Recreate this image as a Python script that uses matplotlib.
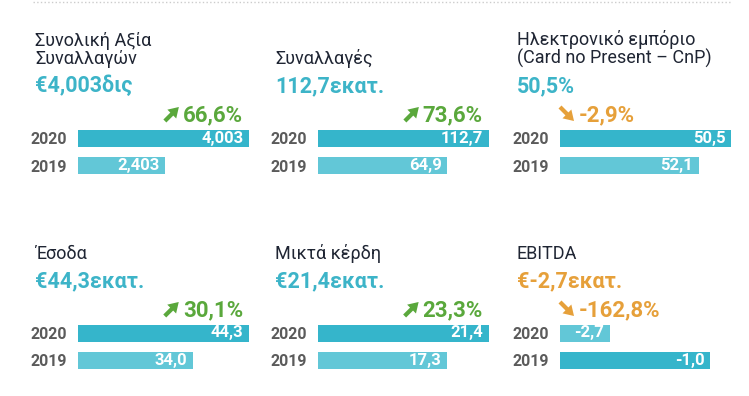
import matplotlib
matplotlib.use("Agg")
import matplotlib.pyplot as plt
from matplotlib.lines import Line2D
from matplotlib.patches import FancyArrow
from matplotlib.transforms import IdentityTransform

plt.rcParams['font.family'] = ['Roboto', 'DejaVu Sans']

# --- data ---
titles = ["Συνολική Αξία\nΣυναλλαγών", "Συναλλαγές", "Ηλεκτρονικό εμπόριο\n(Card no Present – CnP)",
          "Έσοδα", "Μικτά κέρδη", "EBITDA"]
headlines = ["€4,003δις", "112,7εκατ.", "50,5%", "€44,3εκατ.", "€21,4εκατ.", "€-2,7εκατ."]
change_pct = [66.6, 73.6, -2.9, 30.1, 23.3, -162.8]
years = ["2020", "2019"]
val_2020 = [4.003, 112.7, 50.5, 44.3, 21.4, -2.7]
val_2019 = [2.403, 64.9, 52.1, 34.0, 17.3, -1.0]
decimals = [3, 1, 1, 1, 1, 1]
# bar lengths as drawn in the source (share of the full bar width)
shown_2020 = [1.0, 1.0, 1.0, 1.0, 1.0, 0.29]
shown_2019 = [0.51, 0.755, 0.81, 0.67, 0.755, 0.88]

TEAL = '#3db4c8'
DARK_BAR = '#35b5cb'
LIGHT_BAR = '#62c7d7'
GREEN = '#5aa83c'
ORANGE = '#e6a03a'
INK = '#1f2533'
GREY = '#5b5b5b'

W, H = 749, 396
fig = plt.figure(figsize=(W / 100, H / 100), dpi=100)
fig.patch.set_facecolor('white')


def fx(x):
    return x / W


def fy(y):
    return 1 - y / H


def num(v, d):
    return f"{v:.{d}f}".replace('.', ',')


def arrow(x, base, up, color):
    # thick diagonal arrow next to the change figure, drawn in display pixels
    if up:
        x1, y1, dx, dy = x, H - base, 14, 14
    else:
        x1, y1, dx, dy = x, H - (base - 14), 14, -14
    fig.add_artist(FancyArrow(x1, y1, dx, dy, width=4.2, head_width=12.5, head_length=10,
                              length_includes_head=True, color=color, lw=0,
                              transform=IdentityTransform()))


fig.add_artist(Line2D([fx(33), fx(731)], [fy(1.5), fy(1.5)], ls=':', lw=1, color='#cccccc'))

col_x = [35, 275, 517]
row_dy = 195
full_len = 171
step = 27.5
renderer = fig.canvas.get_renderer()

for i in range(6):
    r, c = divmod(i, 3)
    x0 = col_x[c]
    dy = r * row_dy
    bx0 = x0 + 43

    fig.text(fx(x0), fy(64 + dy), titles[i], fontsize=13, color=INK, ha='left', va='baseline',
             linespacing=1.0)
    head_col = ORANGE if val_2020[i] < 0 else TEAL
    fig.text(fx(x0), fy(92 + dy), headlines[i], fontsize=15.5, fontweight='bold', color=head_col,
             ha='left', va='baseline')

    up = change_pct[i] > 0
    ch_col = GREEN if up else ORANGE
    ch_txt = num(change_pct[i], 1) + '%'
    base = 121 + dy
    if up:
        t = fig.text(fx(bx0 + full_len - 6), fy(base), ch_txt, fontsize=16, fontweight='bold',
                     color=ch_col, ha='right', va='baseline')
        left = t.get_window_extent(renderer).x0
        arrow(left - 18, base, True, ch_col)
    else:
        fig.text(fx(bx0 + 19), fy(base), ch_txt, fontsize=16, fontweight='bold',
                 color=ch_col, ha='left', va='baseline')
        arrow(bx0, base, False, ch_col)

    # bars
    yc = 138 + dy
    ax = fig.add_axes([fx(bx0), fy(yc + 1.6 * step), full_len / W, 2.2 * step / H])
    lengths = [shown_2020[i], shown_2019[i]]
    values = [val_2020[i], val_2019[i]]
    longer = 0 if lengths[0] >= lengths[1] else 1
    colors = [DARK_BAR if k == longer else LIGHT_BAR for k in range(2)]
    ax.barh([0, 1], lengths, height=17 / step, color=colors)
    for k in range(2):
        ax.annotate(num(values[k], decimals[i]), xy=(lengths[k], k), xytext=(-4, 0),
                    textcoords='offset points', ha='right', va='center', color='white',
                    fontsize=12, fontweight='bold')
    ax.set_xlim(0, 1)
    ax.set_ylim(1.6, -0.6)
    ax.set_yticks([0, 1], years)
    ax.set_xticks([])
    ax.tick_params(axis='y', length=0, pad=8, labelsize=11.5, labelcolor=GREY)
    for lab in ax.get_yticklabels():
        lab.set_fontweight('bold')
    for s in ax.spines.values():
        s.set_visible(False)
    ax.patch.set_alpha(0)

fig.savefig('out.png', dpi=100, facecolor='white')
